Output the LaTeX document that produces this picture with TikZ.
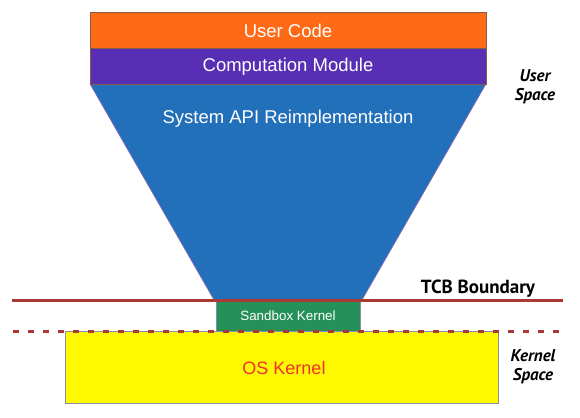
\documentclass[tikz,border=0pt]{standalone}
\usepackage{fontspec}
\setmainfont{Liberation Sans}
\newfontfamily\labelfont{PT Sans}
\definecolor{ucorange}{HTML}{FF6A16}
\definecolor{cmpurple}{HTML}{582EB4}
\definecolor{apiblue}{HTML}{2370BA}
\definecolor{sbgreen}{HTML}{259158}
\definecolor{oskyellow}{HTML}{FFF900}
\definecolor{osred}{HTML}{F0302A}
\definecolor{tcbred}{HTML}{AA3A35}
\definecolor{edgebrown}{HTML}{8A5A48}
\definecolor{edgegray}{HTML}{8A8FA0}
\tikzset{
  layer/.style={draw=edgebrown, line width=0.8pt},
  boxtext/.style={text=white, font=\fontsize{18.5}{20}\selectfont, inner sep=0pt},
  sidelabel/.style={font=\labelfont\bfseries\itshape\fontsize{17}{20}\selectfont, align=center, inner sep=0pt},
}
\begin{document}
\begin{tikzpicture}[x=1pt,y=-1pt]
\useasboundingbox (0,0) rectangle (580,417);
% OS kernel
\filldraw[fill=oskyellow, draw=edgegray, line width=0.8pt] (65,331) rectangle (498,403);
\node[font=\fontsize{18}{20}\selectfont, text=osred, inner sep=0pt] (os) at (284,368) {OS Kernel};
% Trapezoid
\coordinate (tl) at (90,84);
\coordinate (tr) at (486,84);
\coordinate (br) at (362,300);
\coordinate (bl) at (214,300);
\filldraw[fill=apiblue, draw=cmpurple!60!pink, line width=0.6pt] (tl) -- (tr) -- (br) -- (bl) -- cycle;
\node[boxtext] (api) at (288,119) {System API Reimplementation};
% User code and computation module
\filldraw[layer, fill=ucorange] (90,12) rectangle (486,48);
\node[boxtext] (uc) at (288,31) {User Code};
\filldraw[layer, fill=cmpurple] (90,48) rectangle (486,84);
\node[boxtext] (cm) at (288,67) {Computation Module};
% Sandbox kernel
\filldraw[fill=sbgreen, draw=edgegray, line width=0.8pt] (216,300) rectangle (360,331);
\node[text=white, font=\fontsize{13.4}{15}\selectfont, inner sep=0pt] (sb) at (288,316) {Sandbox Kernel};
% TCB boundary
\coordinate (tcbL) at (12,300);
\coordinate (tcbR) at (563,300);
\draw[tcbred, line width=3pt] (tcbL) -- (tcbR);
\coordinate (ksL) at (13,331);
\coordinate (ksR) at (566,331);
\draw[tcbred, line width=3pt, dash pattern=on 6pt off 9pt] (ksL) -- (ksR);
\node[font=\labelfont\bfseries\fontsize{19}{20}\selectfont, inner sep=0pt] (tcb) at (478,289) {TCB Boundary};
% side labels
\node[sidelabel] (us) at (535,87) {User\\[-1pt]Space};
\node[sidelabel] (ks) at (533,367) {Kernel\\[-1pt]Space};
\end{tikzpicture}
\end{document}
